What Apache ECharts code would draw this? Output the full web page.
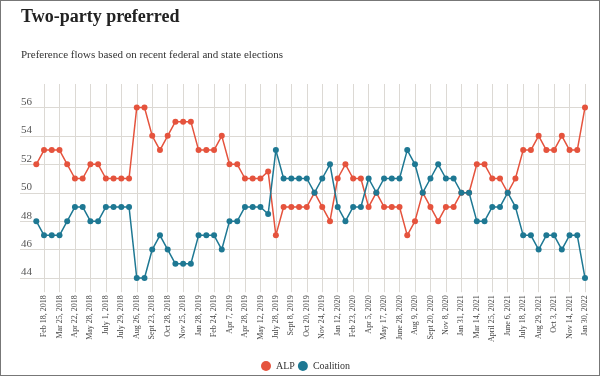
<!DOCTYPE html>
<html>
<head>
<meta charset="utf-8">
<script src="https://cdn.jsdelivr.net/npm/echarts@6/dist/echarts.min.js"></script>
<style>
html,body{margin:0;padding:0;background:#fff;}
#wrap{position:relative;width:600px;height:376px;}
#chart{position:absolute;left:0;top:0;width:600px;height:376px;}
#frame{position:absolute;left:0;top:0;width:600px;height:376px;box-sizing:border-box;border:1px solid #777;pointer-events:none;}
</style>
</head>
<body>
<div id="wrap"><div id="chart"></div><div id="frame"></div></div>
<script>
const dates = [
  "Feb 4, 2018","Feb 18, 2018","Mar 11, 2018","Mar 25, 2018","Apr 8, 2018","Apr 22, 2018",
  "May 13, 2018","May 28, 2018","June 17, 2018","July 1, 2018","July 15, 2018","July 29, 2018",
  "Aug 19, 2018","Aug 26, 2018","Sept 9, 2018","Sept 23, 2018","Oct 14, 2018","Oct 28, 2018",
  "Nov 11, 2018","Nov 25, 2018","Dec 9, 2018","Jan 28, 2019","Feb 10, 2019","Feb 24, 2019",
  "Mar 17, 2019","Apr 7, 2019","Apr 14, 2019","Apr 28, 2019","May 5, 2019","May 12, 2019",
  "May 15, 2019","July 28, 2019","Aug 18, 2019","Sept 8, 2019","Sept 29, 2019","Oct 20, 2019",
  "Nov 10, 2019","Nov 24, 2019","Dec 8, 2019","Jan 12, 2020","Feb 2, 2020","Feb 23, 2020",
  "Mar 15, 2020","Apr 5, 2020","Apr 26, 2020","May 17, 2020","June 7, 2020","June 28, 2020",
  "July 19, 2020","Aug 9, 2020","Aug 30, 2020","Sept 20, 2020","Oct 18, 2020","Nov 8, 2020",
  "Dec 6, 2020","Jan 31, 2021","Feb 21, 2021","Mar 14, 2021","Apr 4, 2021","April 25, 2021",
  "May 16, 2021","June 6, 2021","June 27, 2021","July 18, 2021","Aug 8, 2021","Aug 29, 2021",
  "Sept 19, 2021","Oct 3, 2021","Oct 24, 2021","Nov 14, 2021","Dec 5, 2021","Jan 30, 2022"
];
const alp = [
  52,53,53,53,52,51,51,52,52,51,51,51,51,56,56,54,53,54,
  55,55,55,53,53,53,54,52,52,51,51,51,51.5,47,49,49,49,49,
  50,49,48,51,52,51,51,49,50,49,49,49,47,48,50,49,48,49,
  49,50,50,52,52,51,51,50,51,53,53,54,53,53,54,53,53,56
];
const coalition = [
  48,47,47,47,48,49,49,48,48,49,49,49,49,44,44,46,47,46,
  45,45,45,47,47,47,46,48,48,49,49,49,48.5,53,51,51,51,51,
  50,51,52,49,48,49,49,51,50,51,51,51,53,52,50,51,52,51,
  51,50,50,48,48,49,49,50,49,47,47,46,47,47,46,47,47,44
];
const yTicks = [44,46,48,50,52,54,56];
const seriesNames = ["ALP","Coalition"];
const colors = ["#e5533d","#1e7893"];

const serif = "Liberation Serif";
const gridColor = "#dcd9d4";
const bgTickColors = [42].concat(yTicks).concat([58]).map(v => yTicks.indexOf(v) >= 0 ? gridColor : "rgba(0,0,0,0)");

const chart = echarts.init(document.getElementById("chart"), null, {renderer: "canvas"});
chart.setOption({
  animation: false,
  backgroundColor: "#fff",
  title: [
    {text: "Two-party preferred", left: 21, top: 8, padding: 0,
     textStyle: {fontFamily: serif, fontWeight: "bold", fontSize: 18, color: "#222"}},
    {text: "Preference flows based on recent federal and state elections", left: 21, top: 50, padding: 0,
     textStyle: {fontFamily: serif, fontWeight: "normal", fontSize: 11, color: "#333"}}
  ],
  legend: {
    data: seriesNames, left: 256, top: 356, icon: "circle", itemWidth: 10, itemHeight: 10,
    itemGap: 3, textStyle: {fontFamily: serif, fontSize: 10, color: "#333"}
  },
  grid: [
    {left: 36.3, right: 15, top: 84, bottom: 83.8},
    {left: 20, right: 15, top: 79.1, bottom: 69.6}
  ],
  xAxis: [
    {type: "category", gridIndex: 0, data: dates, boundaryGap: false,
     axisLine: {show: false}, axisTick: {show: false},
     splitLine: {show: true, interval: (i) => i % 2 === 1, lineStyle: {color: gridColor, width: 1}},
     axisLabel: {interval: (i) => i % 2 === 1, rotate: 90, margin: 3,
       fontFamily: serif, fontSize: 8, color: "#444"}},
    {type: "value", gridIndex: 1, min: 0, max: 1, show: false}
  ],
  yAxis: [
    {type: "value", gridIndex: 0, min: 43, max: 57.65, show: false, splitLine: {show: false}},
    {type: "value", gridIndex: 1, min: 42, max: 58, interval: 2,
     axisLine: {show: false}, axisTick: {show: false},
     splitLine: {show: true, lineStyle: {color: bgTickColors, width: 1}},
     axisLabel: {inside: true, margin: 1, verticalAlign: "bottom", align: "left",
       fontFamily: serif, fontSize: 11, color: "#555",
       formatter: (v) => yTicks.indexOf(v) >= 0 ? String(v) : ""}}
  ],
  series: [
    {name: seriesNames[0], type: "line", xAxisIndex: 0, yAxisIndex: 0, data: alp,
     color: colors[0], symbol: "circle", symbolSize: 6, showSymbol: true, showAllSymbol: true,
     lineStyle: {width: 1.5, color: colors[0]}, itemStyle: {color: colors[0]}, z: 3},
    {name: seriesNames[1], type: "line", xAxisIndex: 0, yAxisIndex: 0, data: coalition,
     color: colors[1], symbol: "circle", symbolSize: 6, showSymbol: true, showAllSymbol: true,
     lineStyle: {width: 1.5, color: colors[1]}, itemStyle: {color: colors[1]}, z: 4}
  ]
});
</script>
</body>
</html>
